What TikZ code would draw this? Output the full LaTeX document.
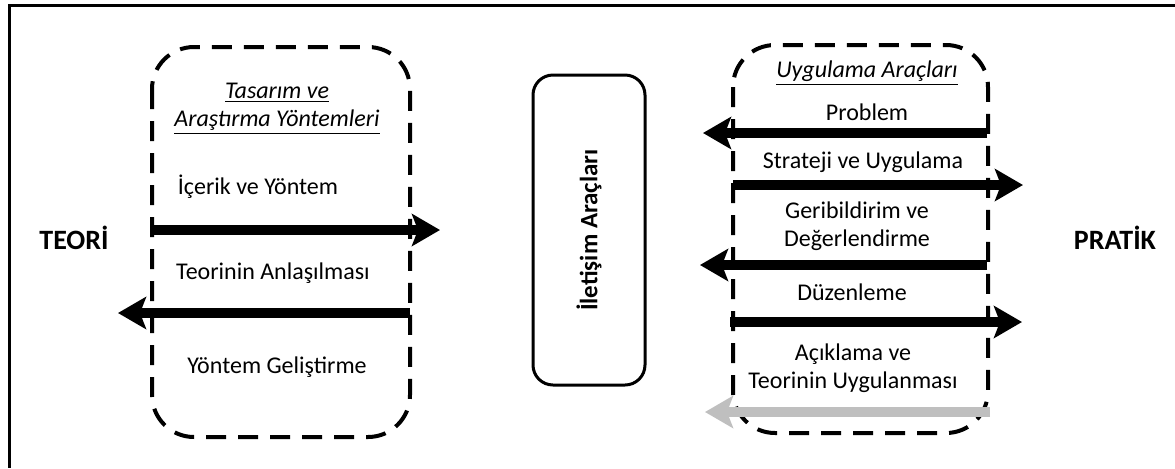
\documentclass[tikz,border=0pt]{standalone}
\usepackage{fontspec}
\setmainfont{Carlito}
\usetikzlibrary{arrows.meta}
\tikzset{
 dashbox/.style={line width=2pt,dash pattern=on 10pt off 6pt,rounded corners=21pt},
 bigarrow/.style={line width=5pt,-{Stealth[length=14pt,width=16pt,inset=3pt]}},
 lbl/.style={font=\fontsize{12}{14}\selectfont,align=center,inner sep=0pt},
 side/.style={font=\fontsize{14}{16}\selectfont\bfseries,inner sep=0pt}
}
\begin{document}
\begin{tikzpicture}[x=0.5pt,y=-0.5pt]
 \useasboundingbox (0,0) rectangle (1175,468);
 % frame, only top and left edges show
 \draw[line width=1.5pt] (1175,5) -- (9,5) -- (9,468);
 % side labels
 \node[side] (teori) at (74,238) {TEORİ};
 \node[side] (pratik) at (1115,238) {PRATİK};
 % left box
 \draw[dashbox] (152,47) rectangle (410,437);
 \node[lbl] (tasarim) at (277,109) {\underline{\textit{Tasarım ve}}\\\underline{\textit{Araştırma Yöntemleri}}};
 \node[lbl] (icerik) at (258,187) {İçerik ve Yöntem};
 \node[lbl] (anlasilma) at (273,273) {Teorinin Anlaşılması};
 \node[lbl] (gelistirme) at (277,367) {Yöntem Geliştirme};
 \coordinate (l1a) at (152,230);
 \coordinate (l1b) at (440,230);
 \coordinate (l2a) at (410,313);
 \coordinate (l2b) at (118,313);
 \draw[bigarrow] (l1a) -- (l1b);
 \draw[bigarrow] (l2a) -- (l2b);
 % middle box
 \node[draw,line width=1.5pt,rounded corners=10pt,minimum width=56pt,minimum height=155pt,inner sep=0pt,
  font=\fontsize{12.5}{15}\selectfont\bfseries] (iletisim) at (589,230) {\rotatebox{90}{İletişim Araçları}};
 % right box
 \draw[dashbox] (733,45) rectangle (988,433);
 \node[lbl] (uygulama) at (867,73) {\underline{\textit{Uygulama Araçları}}};
 \node[lbl] (problem) at (867,112) {Problem};
 \node[lbl] (strateji) at (863,162) {Strateji ve Uygulama};
 \node[lbl] (geribildirim) at (857,226) {Geribildirim ve\\Değerlendirme};
 \node[lbl] (duzenleme) at (852,292) {Düzenleme};
 \node[lbl] (aciklama) at (853,368) {Açıklama ve\\Teorinin Uygulanması};
 \coordinate (r1a) at (987,133);
 \coordinate (r1b) at (703,133);
 \coordinate (r2a) at (733,185);
 \coordinate (r2b) at (1023,185);
 \coordinate (r3a) at (987,265);
 \coordinate (r3b) at (700,265);
 \coordinate (r4a) at (730,322);
 \coordinate (r4b) at (1022,322);
 \coordinate (r5a) at (990,412);
 \coordinate (r5b) at (705,412);
 \draw[bigarrow] (r1a) -- (r1b);
 \draw[bigarrow] (r2a) -- (r2b);
 \draw[bigarrow] (r3a) -- (r3b);
 \draw[bigarrow] (r4a) -- (r4b);
 \draw[bigarrow,gray!50] (r5a) -- (r5b);
\end{tikzpicture}
\end{document}
